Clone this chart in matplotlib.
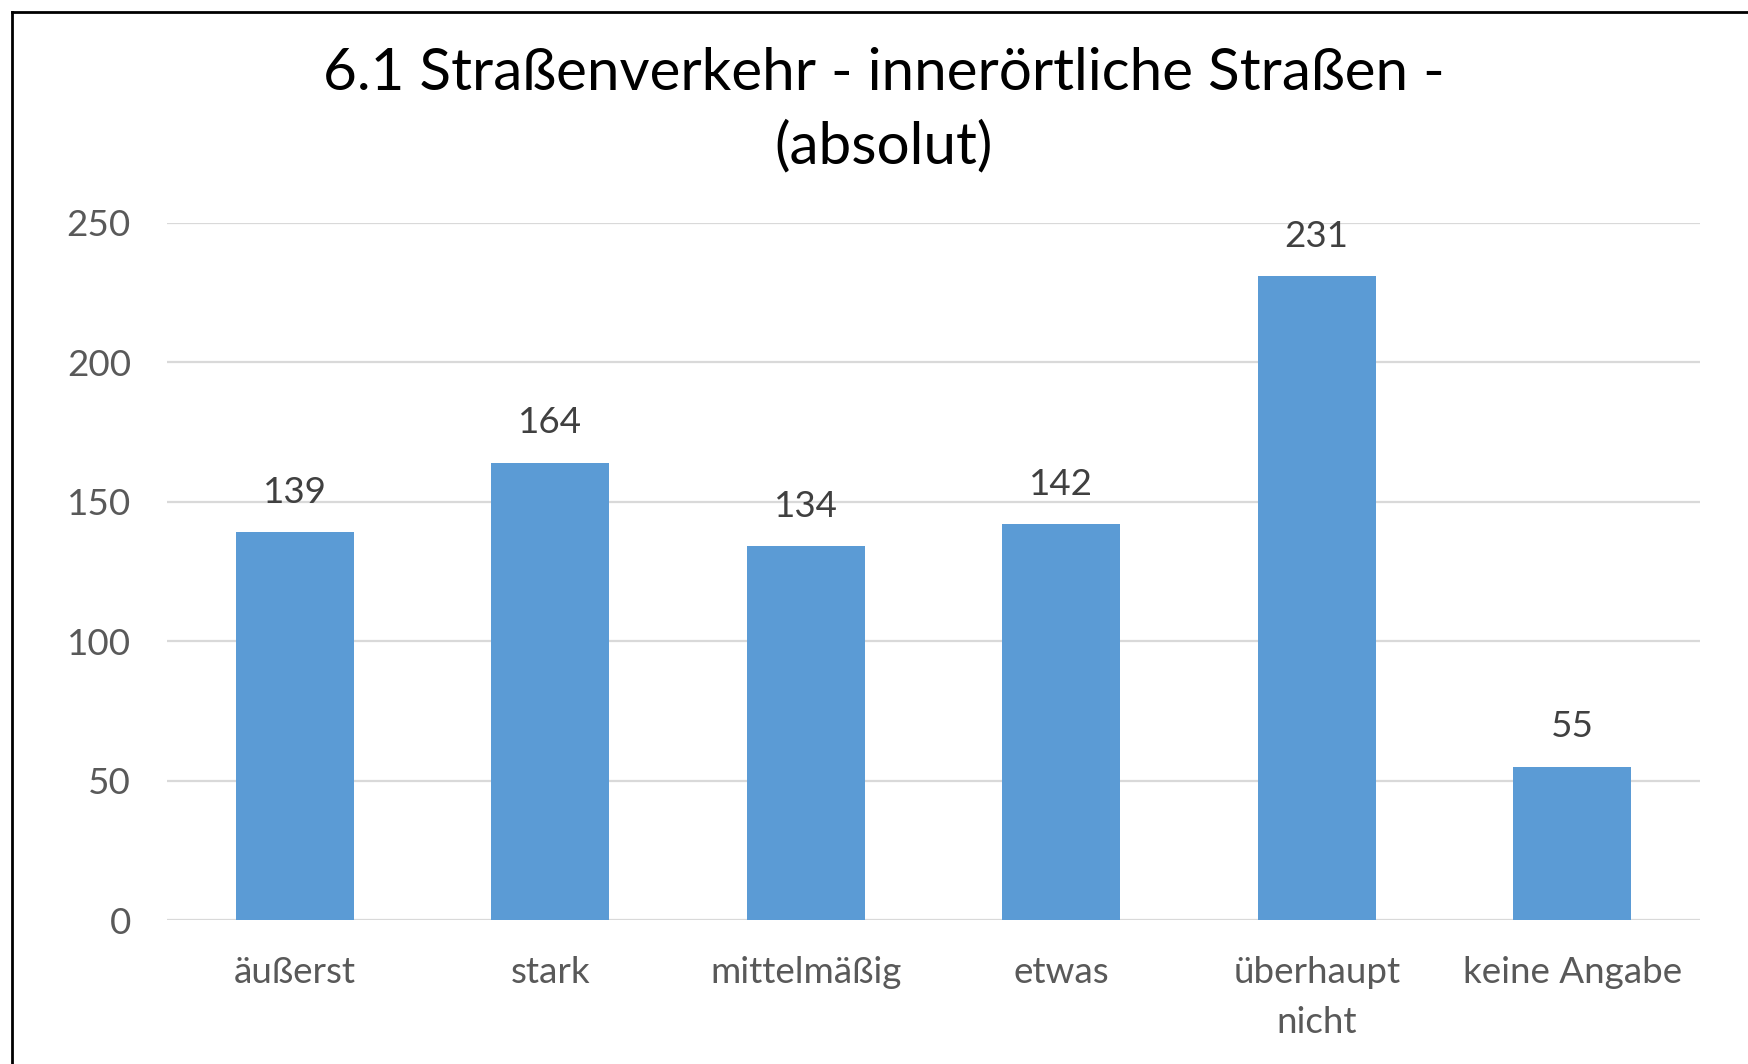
import matplotlib
matplotlib.use("Agg")
import matplotlib.pyplot as plt
from matplotlib.lines import Line2D

categories = ["äußerst", "stark", "mittelmäßig", "etwas", "überhaupt\nnicht", "keine Angabe"]
values = [139, 164, 134, 142, 231, 55]
yticks = [0, 50, 100, 150, 200, 250]
title = "6.1 Straßenverkehr - innerörtliche Straßen -\n(absolut)"

plt.rcParams['font.family'] = ['Lato', 'DejaVu Sans']

W, H = 1749, 1064
fig = plt.figure(figsize=(W / 100, H / 100), dpi=100)
fig.patch.set_facecolor("white")

left, right = 167 / W, 1700 / W
bottom, top = 1 - 920 / H, 1 - 222.7 / H
ax = fig.add_axes([left, bottom, right - left, top - bottom])

x = list(range(len(categories)))
ax.bar(x, values, width=0.46, color="#5B9BD5", zorder=3)
ax.set_xlim(-0.5, len(categories) - 0.5)
ax.set_ylim(0, 250)
ax.set_yticks(yticks)
ax.set_yticklabels([str(t) for t in yticks])
ax.set_xticks(x)
ax.set_xticklabels(categories, linespacing=1.62)

ax.grid(axis="y", color="#D9D9D9", linewidth=1.6, zorder=0)
ax.set_axisbelow(True)
for s in ax.spines.values():
    s.set_visible(False)
ax.tick_params(axis="both", length=0, labelsize=26.5, labelcolor="#595959")
ax.tick_params(axis="y", pad=26)
ax.tick_params(axis="x", pad=26)

for xi, v in zip(x, values):
    ax.annotate(str(v), xy=(xi, v), xytext=(0, 21), textcoords="offset points",
                ha="center", va="baseline", fontsize=26.5, color="#404040")

fig.text(884 / W, 1 - 110 / H, title, ha="center", va="center",
         fontsize=42, color="#000000", linespacing=1.45)

# frame lines (left and top)
fig.add_artist(Line2D([12 / W, 12 / W], [0, 1 - 12 / H], transform=fig.transFigure,
                      color="black", linewidth=2))
fig.add_artist(Line2D([12 / W, 1], [1 - 12 / H, 1 - 12 / H], transform=fig.transFigure,
                      color="black", linewidth=2))

fig.savefig("out.png", dpi=100, facecolor="white")
